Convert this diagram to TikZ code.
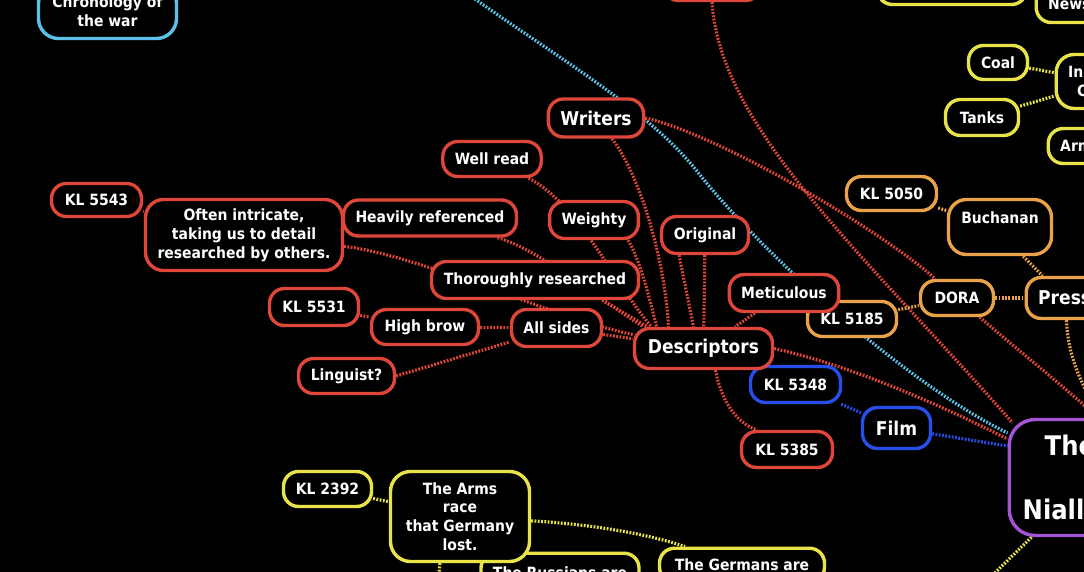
\documentclass[tikz,border=0pt]{standalone}
\usepackage{fontspec}
\newfontfamily\mmfont{DejaVu Sans Condensed Bold}
\usetikzlibrary{backgrounds}
\definecolor{mmred}{RGB}{222,70,58}
\definecolor{mmblue}{RGB}{38,78,232}
\definecolor{mmorange}{RGB}{234,162,72}
\definecolor{mmyellow}{RGB}{232,228,72}
\definecolor{mmpurple}{RGB}{164,84,214}
\definecolor{mmcyan}{RGB}{92,192,232}
\tikzset{
  mbox/.style={rectangle,rounded corners=15pt,line width=3.4pt,fill=black,text=white,
    font=\mmfont\fontsize{15.5}{19}\selectfont,inner xsep=12pt,inner ysep=3pt,align=center},
  bigtxt/.style={font=\mmfont\fontsize{19}{23}\selectfont},
  redbox/.style={mbox,draw=mmred},
  bluebox/.style={mbox,draw=mmblue},
  orbox/.style={mbox,draw=mmorange},
  yelbox/.style={mbox,draw=mmyellow},
  purbox/.style={mbox,draw=mmpurple},
  cyanbox/.style={mbox,draw=mmcyan},
  % ---- dotted branches ----
  link/.style={line width=3.2pt,dash pattern=on 1.8pt off 1.5pt},
  redln/.style={link,draw=mmred},
  blueln/.style={link,draw=mmblue},
  orln/.style={link,draw=mmorange},
  yelln/.style={link,draw=mmyellow},
  cyanln/.style={link,draw=mmcyan},
}
\begin{document}
\begin{tikzpicture}[x=1pt,y=-1pt]
  \useasboundingbox (0,0) rectangle (1084,572);
  \clip (0,0) rectangle (1084,572);
  % red: descriptors cluster
  \node[redbox,minimum width=90pt,minimum height=33pt] (kl5543) at (96.5,200) {KL 5543};
  \node[redbox,rounded corners=18pt,minimum width=195pt,minimum height=71pt] (often) at (244,235)
    {Often intricate,\\taking us to detail\\researched by others.};
  \node[redbox,minimum width=169pt,minimum height=36pt] (heavily) at (430,218) {Heavily referenced};
  \node[redbox,minimum width=95pt,minimum height=35pt] (wellread) at (492,159) {Well read};
  \node[redbox,bigtxt,minimum width=93pt,minimum height=38pt] (writers) at (596,118) {Writers};
  \node[redbox,minimum width=85pt,minimum height=37pt] (weighty) at (594,220) {Weighty};
  \node[redbox,minimum width=87pt,minimum height=37pt] (original) at (705,235) {Original};
  \node[redbox,minimum width=207pt,minimum height=37pt] (thorough) at (535,280) {Thoroughly researched};
  \node[redbox,minimum width=89pt,minimum height=37pt] (kl5531) at (314,307) {KL 5531};
  \node[redbox,minimum width=107pt,minimum height=35pt] (highbrow) at (425,327) {High brow};
  \node[redbox,minimum width=90pt,minimum height=37pt] (allsides) at (556.5,328) {All sides};
  \node[redbox,minimum width=96pt,minimum height=35pt] (linguist) at (346.5,376) {Linguist?};
  \node[orbox,minimum width=89pt,minimum height=35pt] (kl5185) at (852,319) {KL 5185};
  \node[redbox,minimum width=109pt,minimum height=37pt] (meticulous) at (784,293) {Meticulous};
  \node[bluebox,minimum width=90pt,minimum height=36pt] (kl5348) at (795.5,384.5) {KL 5348};
  \node[redbox,bigtxt,minimum width=138pt,minimum height=40pt] (descriptors) at (703.5,348.5) {Descriptors};
  \node[redbox,minimum width=91pt,minimum height=36pt] (kl5385) at (787,449.5) {KL 5385};
  \node[bluebox,bigtxt,minimum width=68pt,minimum height=41pt] (film) at (896.5,428) {Film};
  \node[redbox,minimum width=97pt,minimum height=37pt] (topred) at (712,-18) {};
  % orange
  \node[orbox,minimum width=90pt,minimum height=34pt] (kl5050) at (891.5,193.5) {KL 5050};
  \node[orbox,rounded corners=18pt,minimum width=103pt,minimum height=55pt] (buchanan) at (1000,227) {Buchanan\\\mbox{}};
  \node[orbox,minimum width=73pt,minimum height=35pt] (dora) at (957,298) {DORA};
  \node[orbox,bigtxt,anchor=west,text width=80pt,align=left,minimum height=41pt] (press) at (1024.5,298) {Press};
  % centre
  \node[purbox,anchor=west,rounded corners=26pt,inner xsep=13.5pt,text width=150pt,align=left,
    minimum height=116pt,font=\mmfont\fontsize{27}{32}\selectfont] (ctr) at (1007.5,477.5)
    {\hspace*{22pt}The\\[32pt]Niall};
  % yellow
  \node[yelbox,minimum width=149pt,minimum height=37pt] (topyel) at (952,-14) {};
  \node[yelbox,anchor=west,text width=60pt,align=left,minimum height=37pt] (news) at (1034.5,4) {News};
  \node[yelbox,minimum width=59pt,minimum height=34pt] (coal) at (998,62.5) {Coal};
  \node[yelbox,anchor=west,rounded corners=18pt,text width=70pt,align=left,minimum height=54pt] (ind)
    at (1054.5,81.5) {Ind\\\hspace*{9pt}C};
  \node[yelbox,minimum width=73pt,minimum height=36pt] (tanks) at (982,117.5) {Tanks};
  \node[yelbox,anchor=west,text width=60pt,align=left,minimum height=35pt] (arm) at (1046.5,146) {Arm};
  \node[yelbox,minimum width=88pt,minimum height=35pt] (kl2392) at (327.5,489) {KL 2392};
  \node[yelbox,anchor=north,minimum width=157pt,inner ysep=14pt] (russians) at (560,551.5) {The Russians are};
  \node[yelbox,rounded corners=20pt,minimum width=139pt,minimum height=90pt,
    font=\mmfont\fontsize{15.5}{18.7}\selectfont] (arms) at (460,516.5) {The Arms\\race\\that Germany\\lost.};
  \node[yelbox,anchor=north,minimum width=165pt,inner ysep=11pt] (germans) at (742,546.5) {The Germans are};
  % cyan
  \node[cyanbox,rounded corners=20pt,minimum width=138pt,minimum height=55pt] (chron) at (107.5,11)
    {Chronology of\\the war};
  \coordinate (ybot) at (965,602);
  \coordinate (ybot2) at (436,600);

  \begin{scope}[on background layer]
    \clip (0,0) rectangle (1084,572);
    \fill[black] (0,0) rectangle (1084,572);
    \draw[cyanln] (chron.north east) .. controls (300,-80) and (400,-60) .. (455,-15)
      .. controls (560,60) and (650,110) .. (700,175)
      .. controls (760,250) and (900,380) .. ([yshift=44.5pt]ctr.west);
    % red branches
    \draw[redln] (topred.south) .. controls (720,130) and (870,260) .. ([xshift=5pt,yshift=-5pt]ctr.north west);
    \draw[redln] (writers.east) .. controls (720,135) and (880,230) .. (dora)
      .. controls (1030,360) and (1080,400) .. ([xshift=90pt]ctr.north west);
    \draw[redln] (descriptors.east) .. controls (860,368) and (950,410) .. ([yshift=38.5pt]ctr.west);
    \draw[redln] (writers) .. controls (640,175) and (665,260) .. ([xshift=-35pt]descriptors.north);
    \draw[redln] (wellread) .. controls (580,205) and (615,285) .. ([xshift=-52pt]descriptors.north);
    \draw[redln] ([xshift=-12pt]weighty.south east) .. controls (640,260) and (650,300) .. ([xshift=-47pt]descriptors.north);
    \draw[redln] ([xshift=-26pt]original.south) -- ([xshift=-10pt]descriptors.north);
    \draw[redln] (original) -- (descriptors);
    \draw[redln] (heavily) .. controls (540,250) and (600,300) .. ([xshift=-60pt]descriptors.north);
    \draw[redln] ([xshift=-38pt]thorough.south east) -- ([xshift=-56pt]descriptors.north);
    \draw[redln] (often) .. controls (420,255) and (560,320) .. (descriptors);
    \draw[redln] (allsides) -- (descriptors);
    \draw[redln] (highbrow) -- (allsides);
    \draw[redln] (linguist.east) -- (allsides);
    \draw[redln] (kl5531) -- (highbrow);
    \draw[redln] (kl5543) -- (often);
    \draw[redln] (meticulous) -- (descriptors);
    \draw[redln] ([xshift=12pt]descriptors.south) .. controls (722,405) and (740,425) .. ([xshift=-30pt]kl5385.north);
    % blue
    \draw[blueln] (kl5348) -- (film);
    \draw[blueln] (film) -- ([yshift=31.5pt]ctr.west);
    % orange
    \draw[orln] (kl5050) -- (buchanan);
    \draw[orln] ([xshift=-30pt]buchanan.south east) -- ([xshift=18pt]press.north west);
    \draw[orln] (kl5185) -- (dora);
    \draw[orln] (dora) -- (press.west);
    \draw[orln] ([xshift=42pt]press.south west) .. controls (1068,360) and (1084,390) .. ([xshift=95pt]ctr.north west);
    % yellow
    \draw[yelln] (coal) -- (ind);
    \draw[yelln] (tanks) -- (ind);
    \draw[yelln] (kl2392) -- (arms);
    \draw[yelln] (arms) .. controls (600,525) and (650,535) .. (germans);
    \draw[yelln] ([xshift=24pt]ctr.south west) -- (ybot);
    \draw[yelln] ([xshift=-20pt]arms.south) -- (ybot2);
  \end{scope}
\end{tikzpicture}
\end{document}
